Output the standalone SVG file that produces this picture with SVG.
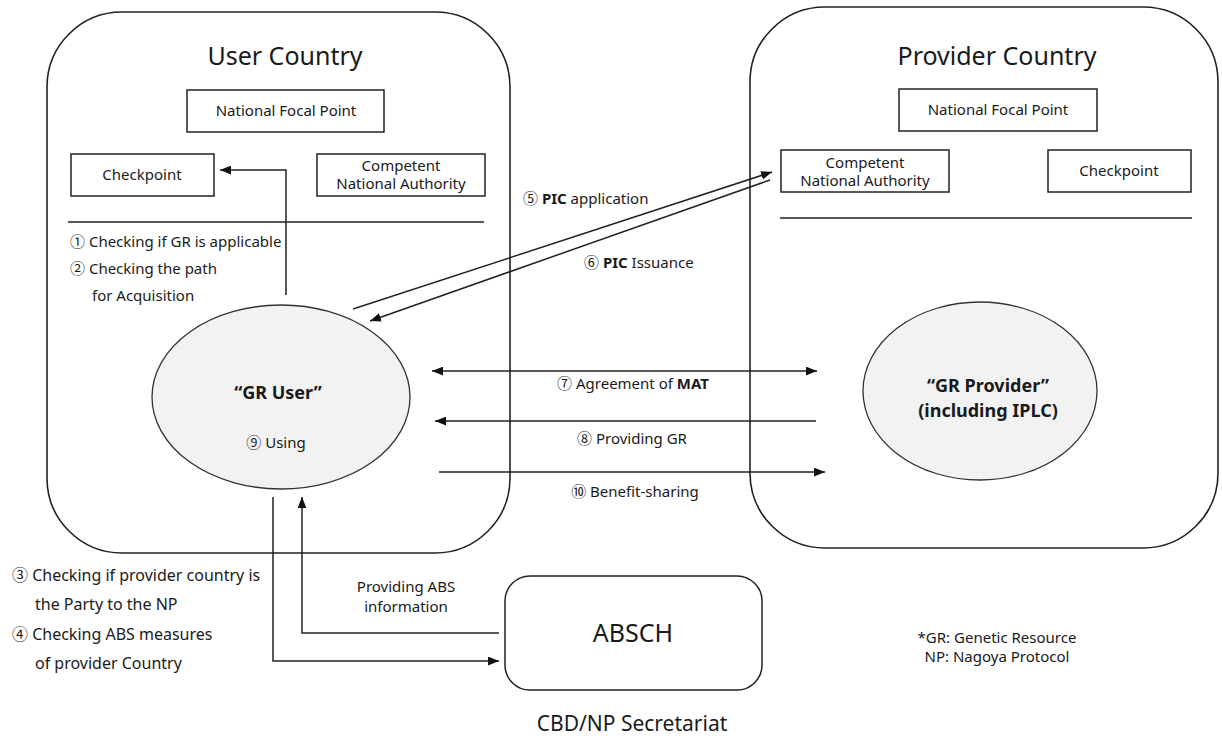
<svg xmlns="http://www.w3.org/2000/svg" width="1222" height="738" viewBox="0 0 1222 738">
<style>
text{font-family:"Noto Sans","Noto Sans CJK KR",sans-serif;fill:#1a1a1a}
.country{fill:#fff;stroke:#222;stroke-width:1.6}
.box{fill:#fff;stroke:#222;stroke-width:1.5}
.ell{fill:#f2f2f2;stroke:#333;stroke-width:1.3}
.ln{fill:none;stroke:#222;stroke-width:1.5}
.t15{font-size:15px}
.t16{font-size:16px}
.title{font-size:25px}
.c{text-anchor:middle}
.b{font-weight:bold}
</style>
<defs>
<marker id="ah" viewBox="0 0 10 8" refX="10" refY="4" markerWidth="11" markerHeight="9" markerUnits="userSpaceOnUse" orient="auto-start-reverse">
<path d="M0,0 L10,4 L0,8 z" fill="#111"/>
</marker>
</defs>
<rect width="1222" height="738" fill="#fff"/>

<g id="user-country">
<rect class="country" x="47" y="12" width="463" height="541" rx="75"/>
<text class="title c" x="285" y="65">User Country</text>
<line class="ln" x1="68" y1="222" x2="484" y2="222"/>
<text class="t15" x="70" y="247">① Checking if GR is applicable</text>
<text class="t15" x="70" y="274">② Checking the path</text>
<text class="t15" x="92" y="301">for Acquisition</text>
</g>
<g id="user-nfp">
<rect class="box" x="187" y="90" width="197" height="42"/>
<text class="t15 c" x="286" y="116">National Focal Point</text>
</g>
<g id="user-checkpoint">
<rect class="box" x="71" y="154" width="143" height="42"/>
<text class="t15 c" x="142" y="180">Checkpoint</text>
</g>
<g id="user-cna">
<rect class="box" x="317" y="154" width="168" height="42"/>
<text class="t15 c" x="401" y="171">Competent</text>
<text class="t15 c" x="401" y="189">National Authority</text>
</g>

<g id="provider-country">
<rect class="country" x="750" y="7" width="468" height="541" rx="75"/>
<text class="title c" x="997" y="65">Provider Country</text>
<line class="ln" x1="780" y1="218" x2="1192" y2="218"/>
</g>
<g id="provider-nfp">
<rect class="box" x="899" y="89" width="198" height="42"/>
<text class="t15 c" x="998" y="115">National Focal Point</text>
</g>
<g id="provider-cna">
<rect class="box" x="781" y="150" width="168" height="42"/>
<text class="t15 c" x="865" y="168">Competent</text>
<text class="t15 c" x="865" y="186">National Authority</text>
</g>
<g id="provider-checkpoint">
<rect class="box" x="1048" y="150" width="143" height="42"/>
<text class="t15 c" x="1119" y="176">Checkpoint</text>
</g>

<g id="gr-user">
<ellipse class="ell" cx="281" cy="397" rx="129" ry="92"/>
<text class="c b" style="font-size:18px" x="278" y="399">“GR User”</text>
<text class="t15 c" x="276" y="448">⑨ Using</text>
</g>
<g id="gr-provider">
<ellipse class="ell" cx="980" cy="391" rx="117" ry="89"/>
<text class="c b" style="font-size:18px" x="988" y="392">“GR Provider”</text>
<text class="c b" style="font-size:18px" x="988" y="417">(including IPLC)</text>
</g>

<g id="absch">
<rect class="box" x="505" y="576" width="257" height="114" rx="25"/>
<text class="c" style="font-size:25px" x="633" y="642">ABSCH</text>
<text class="c" style="font-size:21px" x="632" y="731">CBD/NP Secretariat</text>
</g>

<g id="legend">
<text class="c t15" x="997" y="643">*GR: Genetic Resource</text>
<text class="c t15" x="997" y="662">NP: Nagoya Protocol</text>
</g>

<g id="notes">
<text class="t16" x="12" y="581">③ Checking if provider  country is</text>
<text class="t16" x="35" y="610">the Party to the NP</text>
<text class="t16" x="12" y="640">④ Checking ABS measures</text>
<text class="t16" x="35" y="669">of provider Country</text>
</g>

<g id="connectors">
<polyline class="ln" points="286,295 286,170 220,170" marker-end="url(#ah)"/>
<line class="ln" x1="353" y1="309" x2="772" y2="172" marker-end="url(#ah)"/>
<line class="ln" x1="770" y1="180" x2="370" y2="321" marker-end="url(#ah)"/>
<text class="t15" x="523" y="204">⑤ <tspan class="b">PIC</tspan> application</text>
<text class="t15" x="584" y="268">⑥ <tspan class="b">PIC</tspan> Issuance</text>
<line class="ln" x1="432" y1="371" x2="817" y2="371" marker-start="url(#ah)" marker-end="url(#ah)"/>
<text class="t15 c" x="633" y="389">⑦ Agreement of <tspan class="b">MAT</tspan></text>
<line class="ln" x1="816" y1="421" x2="435" y2="421" marker-end="url(#ah)"/>
<text class="t15 c" x="632" y="444">⑧ Providing GR</text>
<line class="ln" x1="439" y1="472" x2="825" y2="472" marker-end="url(#ah)"/>
<text class="t15 c" x="635" y="497">⑩ Benefit-sharing</text>
<polyline class="ln" points="273,497 273,661 499,661" marker-end="url(#ah)"/>
<polyline class="ln" points="499,633 302,633 302,497" marker-end="url(#ah)"/>
<text class="t15 c" x="406" y="592">Providing ABS</text>
<text class="t15 c" x="406" y="612">information</text>
</g>
</svg>
